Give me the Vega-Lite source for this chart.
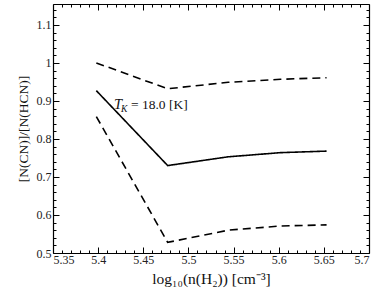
{
  "$schema": "https://vega.github.io/schema/vega-lite/v6.json",
  "autosize": "none",
  "width": 316,
  "height": 249,
  "padding": {"left": 53, "top": 4, "right": 13, "bottom": 38},
  "background": "white",
  "config": {
    "view": {"stroke": null},
    "font": "Liberation Serif",
    "axis": {"grid": false, "labelFont": "Liberation Serif", "titleFont": "Liberation Serif", "labelColor": "#222", "titleColor": "#111", "domainColor": "#000", "tickColor": "#000"}
  },
  "datasets": {
    "curves": [
      {"series": "upper", "x": 5.398, "y": 1.0},
      {"series": "upper", "x": 5.477, "y": 0.932},
      {"series": "upper", "x": 5.544, "y": 0.949},
      {"series": "upper", "x": 5.602, "y": 0.957},
      {"series": "upper", "x": 5.653, "y": 0.961},
      {"series": "mid", "x": 5.398, "y": 0.927},
      {"series": "mid", "x": 5.477, "y": 0.730},
      {"series": "mid", "x": 5.544, "y": 0.753},
      {"series": "mid", "x": 5.602, "y": 0.764},
      {"series": "mid", "x": 5.653, "y": 0.768},
      {"series": "lower", "x": 5.398, "y": 0.859},
      {"series": "lower", "x": 5.477, "y": 0.528},
      {"series": "lower", "x": 5.544, "y": 0.560},
      {"series": "lower", "x": 5.602, "y": 0.571},
      {"series": "lower", "x": 5.653, "y": 0.574}
    ],
    "label": [{"x": 5.4175, "y": 0.889}]
  },
  "resolve": {"axis": {"x": "independent", "y": "independent"}},
  "layer": [
    {
      "data": {"name": "curves"},
      "mark": {"type": "line", "color": "#000", "strokeWidth": 1.6},
      "encoding": {
        "x": {"field": "x", "type": "quantitative", "scale": {"domain": [5.35, 5.7], "nice": false, "zero": false},
          "axis": {"orient": "bottom", "values": [5.35, 5.4, 5.45, 5.5, 5.55, 5.6, 5.65, 5.7], "format": "~g", "tickSize": -6, "labelPadding": 7, "labelFontSize": 12, "domainWidth": 1.2,
            "title": "log₁₀(n(H₂)) [cm⁻³]", "titleFontSize": 15.5, "titleFontWeight": "normal", "titlePadding": 6}},
        "y": {"field": "y", "type": "quantitative", "scale": {"domain": [0.5, 1.155], "nice": false, "zero": false},
          "axis": {"orient": "left", "values": [0.5, 0.6, 0.7, 0.8, 0.9, 1, 1.1], "format": "~g", "tickSize": -6, "labelPadding": 8, "labelFontSize": 12, "domainWidth": 1.2,
            "title": "[N(CN)]/[N(HCN)]", "titleFontSize": 13.5, "titleFontWeight": "normal", "titlePadding": 6}},
        "detail": {"field": "series"},
        "strokeDash": {"field": "series", "type": "nominal", "scale": {"domain": ["upper", "mid", "lower"], "range": [[8, 5], [1, 0], [8, 5]]}, "legend": null}
      }
    },
    {
      "data": {"name": "curves"},
      "mark": {"type": "point", "opacity": 0},
      "encoding": {
        "x": {"field": "x", "type": "quantitative", "scale": {"domain": [5.35, 5.7], "nice": false, "zero": false},
          "axis": {"orient": "bottom", "values": [5.36, 5.37, 5.38, 5.39, 5.41, 5.42, 5.43, 5.44, 5.46, 5.47, 5.48, 5.49, 5.51, 5.52, 5.53, 5.54, 5.56, 5.57, 5.58, 5.59, 5.61, 5.62, 5.63, 5.64, 5.66, 5.67, 5.68, 5.69], "labels": false, "domain": false, "tickSize": -3, "title": null}},
        "y": {"field": "y", "type": "quantitative", "scale": {"domain": [0.5, 1.155], "nice": false, "zero": false},
          "axis": {"orient": "left", "values": [0.52, 0.54, 0.56, 0.58, 0.62, 0.64, 0.66, 0.68, 0.72, 0.74, 0.76, 0.78, 0.82, 0.84, 0.86, 0.88, 0.92, 0.94, 0.96, 0.98, 1.02, 1.04, 1.06, 1.08, 1.12, 1.14], "labels": false, "domain": false, "tickSize": -3, "title": null}}
      }
    },
    {
      "data": {"name": "curves"},
      "mark": {"type": "point", "opacity": 0},
      "encoding": {
        "x": {"field": "x", "type": "quantitative", "scale": {"domain": [5.35, 5.7], "nice": false, "zero": false},
          "axis": {"orient": "top", "values": [5.35, 5.4, 5.45, 5.5, 5.55, 5.6, 5.65, 5.7], "labels": false, "tickSize": -6, "domainWidth": 1.2, "title": null}},
        "y": {"field": "y", "type": "quantitative", "scale": {"domain": [0.5, 1.155], "nice": false, "zero": false},
          "axis": {"orient": "right", "values": [0.5, 0.6, 0.7, 0.8, 0.9, 1, 1.1], "labels": false, "tickSize": -6, "domainWidth": 1.2, "title": null}}
      }
    },
    {
      "data": {"name": "curves"},
      "mark": {"type": "point", "opacity": 0},
      "encoding": {
        "x": {"field": "x", "type": "quantitative", "scale": {"domain": [5.35, 5.7], "nice": false, "zero": false},
          "axis": {"orient": "top", "values": [5.36, 5.37, 5.38, 5.39, 5.41, 5.42, 5.43, 5.44, 5.46, 5.47, 5.48, 5.49, 5.51, 5.52, 5.53, 5.54, 5.56, 5.57, 5.58, 5.59, 5.61, 5.62, 5.63, 5.64, 5.66, 5.67, 5.68, 5.69], "labels": false, "domain": false, "tickSize": -3, "title": null}},
        "y": {"field": "y", "type": "quantitative", "scale": {"domain": [0.5, 1.155], "nice": false, "zero": false},
          "axis": {"orient": "right", "values": [0.52, 0.54, 0.56, 0.58, 0.62, 0.64, 0.66, 0.68, 0.72, 0.74, 0.76, 0.78, 0.82, 0.84, 0.86, 0.88, 0.92, 0.94, 0.96, 0.98, 1.02, 1.04, 1.06, 1.08, 1.12, 1.14], "labels": false, "domain": false, "tickSize": -3, "title": null}}
      }
    },
    {
      "data": {"name": "label"},
      "mark": {"type": "text", "text": "T", "font": "Liberation Serif", "fontStyle": "italic", "fontSize": 14.5, "align": "left", "baseline": "middle", "color": "#111"},
      "encoding": {
        "x": {"field": "x", "type": "quantitative", "scale": {"domain": [5.35, 5.7], "nice": false, "zero": false}, "axis": null},
        "y": {"field": "y", "type": "quantitative", "scale": {"domain": [0.5, 1.155], "nice": false, "zero": false}, "axis": null}
      }
    },
    {
      "data": {"name": "label"},
      "mark": {"type": "text", "text": "K", "font": "Liberation Serif", "fontStyle": "italic", "fontSize": 9.5, "align": "left", "baseline": "middle", "dx": 7, "dy": 4, "color": "#111"},
      "encoding": {
        "x": {"field": "x", "type": "quantitative", "scale": {"domain": [5.35, 5.7], "nice": false, "zero": false}, "axis": null},
        "y": {"field": "y", "type": "quantitative", "scale": {"domain": [0.5, 1.155], "nice": false, "zero": false}, "axis": null}
      }
    },
    {
      "data": {"name": "label"},
      "mark": {"type": "text", "text": "= 18.0 [K]", "font": "Liberation Serif", "fontSize": 13.5, "align": "left", "baseline": "middle", "dx": 17, "color": "#111"},
      "encoding": {
        "x": {"field": "x", "type": "quantitative", "scale": {"domain": [5.35, 5.7], "nice": false, "zero": false}, "axis": null},
        "y": {"field": "y", "type": "quantitative", "scale": {"domain": [0.5, 1.155], "nice": false, "zero": false}, "axis": null}
      }
    }
  ]
}
